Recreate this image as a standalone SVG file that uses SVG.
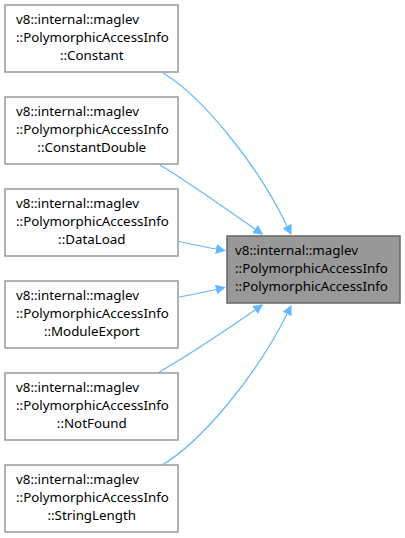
<svg xmlns="http://www.w3.org/2000/svg" width="405" height="538" viewBox="0 0 405 538">
<style>
.box{fill:#ffffff;stroke:#999999;stroke-width:1.5}
.main{fill:#999999;stroke:#666666;stroke-width:1.5}
text{font-family:"Noto Sans","DejaVu Sans",sans-serif;font-size:13.33px;fill:#000000}
.edge{fill:none;stroke:#63b8ff;stroke-width:1.2}
</style>
<defs>
<marker id="ah" viewBox="0 0 10 10" refX="0" refY="5" markerWidth="10" markerHeight="10" markerUnits="userSpaceOnUse" orient="auto">
<path d="M0,0 L10,5 L0,10 z" fill="#63b8ff"/>
</marker>
</defs>
<rect width="405" height="538" fill="#ffffff"/>
<g id="edges">
<path class="edge" marker-end="url(#ah)" d="M163,73 C200,95 255,160 287,226"/>
<path class="edge" marker-end="url(#ah)" d="M160,165 C185,180 225,208 255,229"/>
<path class="edge" marker-end="url(#ah)" d="M179,241.5 C190,244 200,246 216,249"/>
<path class="edge" marker-end="url(#ah)" d="M179,297 C190,295 200,293 216,289.5"/>
<path class="edge" marker-end="url(#ah)" d="M158,373 C185,357 225,331 255,310"/>
<path class="edge" marker-end="url(#ah)" d="M162,465 C200,443 255,378 287,314"/>
</g>
<g id="main">
<rect class="main" x="227" y="236" width="173" height="67"/>
<text x="235" y="254.5">v8::internal::maglev</text>
<text x="235" y="273">::PolymorphicAccessInfo</text>
<text x="235" y="291">::PolymorphicAccessInfo</text>
</g>
<g id="constant">
<rect class="box" x="5" y="5" width="173" height="67"/>
<text x="16" y="23.5">v8::internal::maglev</text>
<text x="16" y="42">::PolymorphicAccessInfo</text>
<text x="91.75" y="60" text-anchor="middle">::Constant</text>
</g>
<g id="constantdouble">
<rect class="box" x="5" y="97" width="173" height="67"/>
<text x="16" y="115.5">v8::internal::maglev</text>
<text x="16" y="134">::PolymorphicAccessInfo</text>
<text x="91.75" y="152" text-anchor="middle">::ConstantDouble</text>
</g>
<g id="dataload">
<rect class="box" x="5" y="189" width="173" height="67"/>
<text x="16" y="207.5">v8::internal::maglev</text>
<text x="16" y="226">::PolymorphicAccessInfo</text>
<text x="91.75" y="244" text-anchor="middle">::DataLoad</text>
</g>
<g id="moduleexport">
<rect class="box" x="5" y="281" width="173" height="67"/>
<text x="16" y="299.5">v8::internal::maglev</text>
<text x="16" y="318">::PolymorphicAccessInfo</text>
<text x="91.75" y="336" text-anchor="middle">::ModuleExport</text>
</g>
<g id="notfound">
<rect class="box" x="5" y="373" width="173" height="67"/>
<text x="16" y="391.5">v8::internal::maglev</text>
<text x="16" y="410">::PolymorphicAccessInfo</text>
<text x="91.75" y="428" text-anchor="middle">::NotFound</text>
</g>
<g id="stringlength">
<rect class="box" x="5" y="465" width="173" height="67"/>
<text x="16" y="483.5">v8::internal::maglev</text>
<text x="16" y="502">::PolymorphicAccessInfo</text>
<text x="91.75" y="520" text-anchor="middle">::StringLength</text>
</g>
</svg>
